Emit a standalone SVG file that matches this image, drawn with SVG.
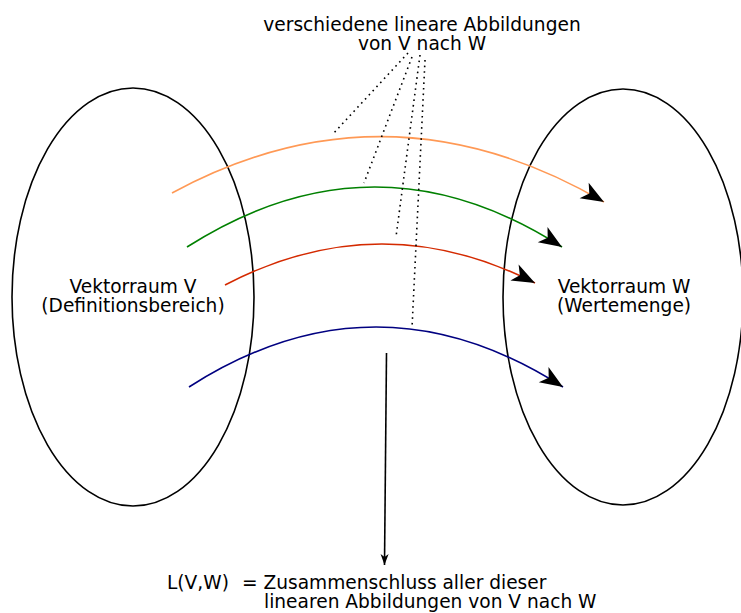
<svg xmlns="http://www.w3.org/2000/svg" width="741" height="613" viewBox="0 0 741 613">
<style>
  text { font-family: "DejaVu Sans", "Liberation Sans", sans-serif; font-size: 18.6px; fill: #000; }
  .ell { fill: none; stroke: #000; stroke-width: 1.6; }
  .map { fill: none; stroke-width: 1.6; }
  .dot { fill: none; stroke: #000; stroke-width: 1.6; stroke-dasharray: 1.6 4; }
</style>
<defs>
  <marker id="big" markerUnits="userSpaceOnUse" viewBox="-24 -10 26 20" refX="0" refY="0" markerWidth="26" markerHeight="20" orient="auto">
    <path d="M0,0 L-23,-9 L-17,0 L-23,9 Z" fill="#000"/>
  </marker>
  <marker id="small" markerUnits="userSpaceOnUse" viewBox="-12 -5 13 10" refX="0" refY="0" markerWidth="13" markerHeight="10" orient="auto">
    <path d="M0,0 L-11,-4 L-8,0 L-11,4 Z" fill="#000"/>
  </marker>
</defs>
<g id="spaceV">
  <ellipse class="ell" cx="133" cy="297" rx="121" ry="209"/>
  <text x="133" y="293" text-anchor="middle">Vektorraum V</text>
  <text x="133" y="312" text-anchor="middle">(Definitionsbereich)</text>
</g>
<g id="spaceW">
  <ellipse class="ell" cx="623" cy="297" rx="120" ry="208"/>
  <text x="624" y="293" text-anchor="middle">Vektorraum W</text>
  <text x="624" y="312" text-anchor="middle">(Wertemenge)</text>
</g>
<g id="label-top">
  <text x="422" y="31" text-anchor="middle">verschiedene lineare Abbildungen</text>
  <text x="422" y="50" text-anchor="middle">von V nach W</text>
</g>
<g id="label-bottom">
  <text x="167" y="589">L(V,W)</text>
  <text x="242" y="589">= Zusammenschluss aller dieser</text>
  <text x="264" y="608">linearen Abbildungen von V nach W</text>
</g>
<g id="connectors">
  <path class="map" stroke="#ff9955" d="M172,193 Q388,76 604,202" marker-end="url(#big)"/>
  <path class="map" stroke="#008000" d="M187,247 Q375,127 562,247" marker-end="url(#big)"/>
  <path class="map" stroke="#d42a00" d="M225,285 Q380,204 535,283" marker-end="url(#big)"/>
  <path class="map" stroke="#000080" d="M189,387 Q376,267 563,387" marker-end="url(#big)"/>
  <line class="dot" x1="408" y1="53" x2="332" y2="135"/>
  <line class="dot" x1="412" y1="57" x2="364" y2="183"/>
  <line class="dot" x1="420" y1="55" x2="396" y2="237"/>
  <line class="dot" x1="425" y1="60" x2="412" y2="328"/>
  <line x1="386.5" y1="353" x2="384.5" y2="565" stroke="#000" stroke-width="1.6" marker-end="url(#small)"/>
</g>
</svg>
